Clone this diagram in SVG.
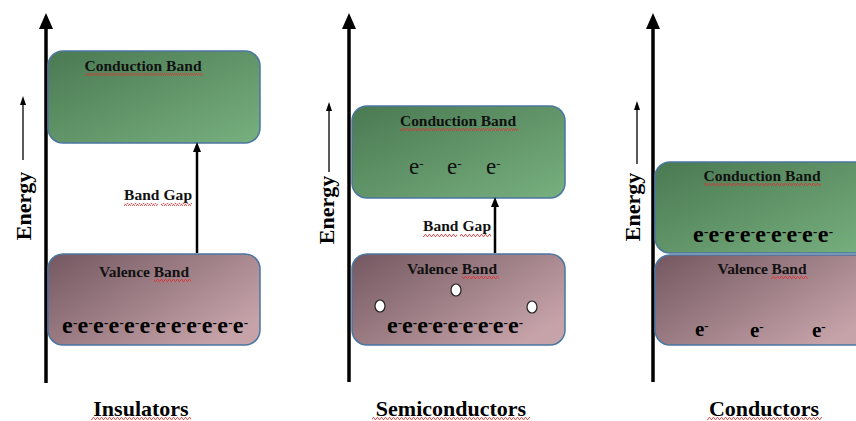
<svg xmlns="http://www.w3.org/2000/svg" width="856" height="421" viewBox="0 0 856 421">
  <defs>
    <linearGradient id="gradCond" x1="0" y1="0" x2="1" y2="1">
      <stop offset="0" stop-color="#4a7952"/>
      <stop offset="1" stop-color="#78b07f"/>
    </linearGradient>
    <linearGradient id="gradVal" x1="0" y1="0" x2="1" y2="0.7">
      <stop offset="0" stop-color="#735760"/>
      <stop offset="1" stop-color="#c6a3a9"/>
    </linearGradient>
    <pattern id="squiggle" width="4" height="3" patternUnits="userSpaceOnUse">
      <polyline points="0,2.5 1,0.5 2,0.5 3,2.5 4,2.5" fill="none" stroke="#e03030" stroke-width="0.8"/>
    </pattern>
  </defs>
  <style>
    .axis { stroke: #000; stroke-width: 3.5; fill: none; }
    .thin { stroke: #000; stroke-width: 1.3; fill: none; }
    .gap { stroke: #000; stroke-width: 2.5; fill: none; }
    .head { fill: #000; }
    .cond { fill: url(#gradCond); stroke: #4a76a0; stroke-width: 1.5; }
    .val { fill: url(#gradVal); stroke: #4a76a0; stroke-width: 1.5; }
    .lbl { font-family: "Liberation Serif", "Times New Roman", serif; font-weight: bold; font-size: 15.5px; fill: #111; text-anchor: middle; }
    .title { font-family: "Liberation Serif", "Times New Roman", serif; font-weight: bold; font-size: 22px; fill: #000; text-anchor: middle; }
    .energy { font-family: "Liberation Serif", "Times New Roman", serif; font-weight: bold; font-size: 22px; fill: #000; text-anchor: middle; }
    .eb { font-family: "Liberation Serif", "Times New Roman", serif; font-weight: bold; font-size: 24px; fill: #000; }
    .eb2 { font-family: "Liberation Serif", "Times New Roman", serif; font-weight: bold; font-size: 21px; fill: #000; }
    .er { font-family: "Liberation Serif", "Times New Roman", serif; font-size: 23px; fill: #111; }
    .sup { font-size: 13px; baseline-shift: 45%; }
    .hole { fill: #fff; stroke: #222; stroke-width: 1.2; }
    .sq { fill: url(#squiggle); }
  </style>

  <!-- Insulators -->
  <g id="insulator-axis">
    <line class="axis" x1="46" y1="383" x2="46" y2="26"/>
    <polygon class="head" points="46,13 39,29 53,29"/>
    <line class="thin" x1="23" y1="160" x2="23" y2="103"/>
    <polygon class="head" points="23,96 20,105 26,105"/>
    <text class="energy" transform="translate(31,206) rotate(-90)">Energy</text>
  </g>
  <g id="insulator-conduction">
    <rect class="cond" x="48" y="51" width="212" height="92" rx="15"/>
    <text class="lbl" x="143" y="71" textLength="117">Conduction Band</text>
    <rect class="sq" x="85" y="73" width="118" height="3"/>
  </g>
  <g id="insulator-valence">
    <rect class="val" x="48" y="254" width="212" height="91" rx="15"/>
    <text class="lbl" x="144" y="277" textLength="90">Valence Band</text>
    <rect class="sq" x="154" y="279" width="37" height="3"/>
    <text class="eb" x="62" y="333" textLength="186">e<tspan class="sup">-</tspan>e<tspan class="sup">-</tspan>e<tspan class="sup">-</tspan>e<tspan class="sup">-</tspan>e<tspan class="sup">-</tspan>e<tspan class="sup">-</tspan>e<tspan class="sup">-</tspan>e<tspan class="sup">-</tspan>e<tspan class="sup">-</tspan>e<tspan class="sup">-</tspan>e<tspan class="sup">-</tspan>e<tspan class="sup">-</tspan></text>
  </g>
  <g id="insulator-gap">
    <text class="lbl" x="158" y="200" textLength="68">Band Gap</text>
    <rect class="sq" x="124" y="203" width="34" height="3"/>
    <rect class="sq" x="161" y="203" width="31" height="3"/>
  </g>
  <g id="insulator-title">
    <text class="title" x="141" y="416">Insulators</text>
    <rect class="sq" x="91" y="417" width="100" height="3"/>
  </g>

  <!-- Semiconductors -->
  <g id="semi-axis">
    <line class="axis" x1="349" y1="382" x2="349" y2="26"/>
    <polygon class="head" points="349,13 342,29 356,29"/>
    <line class="thin" x1="329" y1="172" x2="329" y2="109"/>
    <polygon class="head" points="329,102 326,111 332,111"/>
    <text class="energy" transform="translate(334,210) rotate(-90)">Energy</text>
  </g>
  <g id="semi-conduction">
    <rect class="cond" x="352" y="106" width="213" height="92" rx="15"/>
    <text class="lbl" x="458" y="126" textLength="116">Conduction Band</text>
    <rect class="sq" x="400" y="128" width="118" height="3"/>
    <text class="er" x="409" y="174">e<tspan class="sup">-</tspan></text>
    <text class="er" x="447" y="174">e<tspan class="sup">-</tspan></text>
    <text class="er" x="486" y="174">e<tspan class="sup">-</tspan></text>
  </g>
  <g id="semi-valence">
    <rect class="val" x="352" y="254" width="213" height="91" rx="15"/>
    <text class="lbl" x="452" y="274" textLength="90">Valence Band</text>
    <rect class="sq" x="462" y="276" width="37" height="3"/>
    <ellipse class="hole" cx="380" cy="306" rx="5" ry="6"/>
    <ellipse class="hole" cx="456" cy="290" rx="5" ry="6"/>
    <ellipse class="hole" cx="532" cy="307" rx="5" ry="6"/>
    <text class="eb" x="387" y="333" textLength="136">e<tspan class="sup">-</tspan>e<tspan class="sup">-</tspan>e<tspan class="sup">-</tspan>e<tspan class="sup">-</tspan>e<tspan class="sup">-</tspan>e<tspan class="sup">-</tspan>e<tspan class="sup">-</tspan>e<tspan class="sup">-</tspan>e<tspan class="sup">-</tspan></text>
  </g>
  <g id="semi-gap">
    <text class="lbl" x="457" y="231" textLength="68">Band Gap</text>
    <rect class="sq" x="423" y="234" width="34" height="3"/>
    <rect class="sq" x="460" y="234" width="31" height="3"/>
  </g>
  <g id="semi-title">
    <text class="title" x="451" y="416">Semiconductors</text>
    <rect class="sq" x="372" y="417" width="158" height="3"/>
  </g>

  <!-- Conductors -->
  <g id="conductor-axis">
    <line class="axis" x1="653" y1="382" x2="653" y2="26"/>
    <polygon class="head" points="653,13 646,29 660,29"/>
    <line class="thin" x1="637" y1="164" x2="637" y2="108"/>
    <polygon class="head" points="637,101 634,110 640,110"/>
    <text class="energy" transform="translate(640,207) rotate(-90)">Energy</text>
  </g>
  <g id="conductor-conduction">
    <rect class="cond" x="655" y="162" width="216" height="91" rx="15"/>
    <text class="lbl" x="762" y="181" textLength="117">Conduction Band</text>
    <rect class="sq" x="704" y="183" width="117" height="3"/>
    <text class="eb" x="693" y="242" textLength="140">e<tspan class="sup">-</tspan>e<tspan class="sup">-</tspan>e<tspan class="sup">-</tspan>e<tspan class="sup">-</tspan>e<tspan class="sup">-</tspan>e<tspan class="sup">-</tspan>e<tspan class="sup">-</tspan>e<tspan class="sup">-</tspan>e<tspan class="sup">-</tspan></text>
  </g>
  <g id="conductor-valence">
    <rect class="val" x="655" y="255" width="216" height="90" rx="15"/>
    <text class="lbl" x="762" y="274" textLength="89">Valence Band</text>
    <rect class="sq" x="771" y="276" width="37" height="3"/>
    <text class="eb2" x="695" y="336">e<tspan class="sup">-</tspan></text>
    <text class="eb2" x="750" y="337">e<tspan class="sup">-</tspan></text>
    <text class="eb2" x="812" y="337">e<tspan class="sup">-</tspan></text>
  </g>
  <g id="conductor-title">
    <text class="title" x="764" y="416">Conductors</text>
    <rect class="sq" x="707" y="417" width="115" height="3"/>
  </g>

  <!-- band gap connectors -->
  <g id="connectors">
    <line class="gap" x1="197" y1="253" x2="197" y2="150"/>
    <polygon class="head" points="197,142 193,152 201,152"/>
    <line class="gap" x1="495" y1="253" x2="495" y2="205"/>
    <polygon class="head" points="495,197 491,207 499,207"/>
  </g>
</svg>
